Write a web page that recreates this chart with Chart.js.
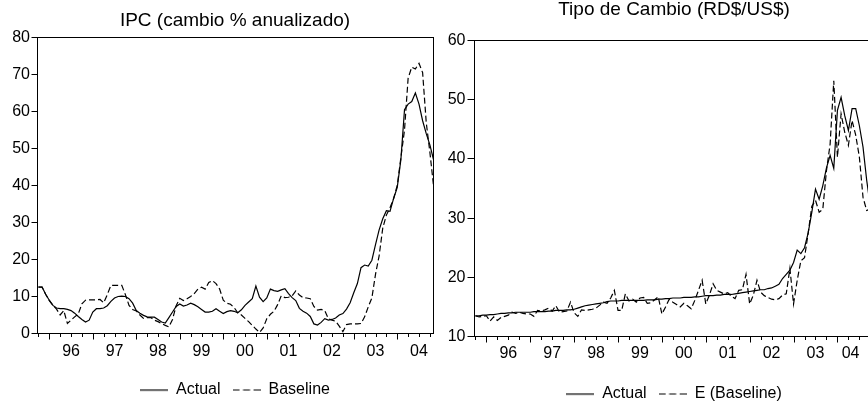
<!DOCTYPE html>
<html><head><meta charset="utf-8">
<script src="https://cdn.jsdelivr.net/npm/chart.js@4/dist/chart.umd.min.js"></script>
<style>
html,body{margin:0;padding:0;background:#fff;}
#wrap{position:relative;width:868px;height:404px;overflow:hidden;background:#fff;}
canvas{position:absolute;top:0;}
#c1{left:0;} #c2{left:431px;}
</style></head><body>
<div id="wrap"><canvas id="c1" width="470" height="404"></canvas><canvas id="c2" width="486" height="404"></canvas></div>
<script>
// Monthly observations, 1995M10 .. 2004M11
const firstObs = '1995M10';
const yearLabels = ['96','97','98','99','00','01','02','03','04'];
const ipcSeries = ['Actual', 'Baseline'];
const fxSeries = ['Actual', 'E (Baseline)'];

const ipcActual = [12.5,12.6,10.6,9.0,7.6,6.9,6.7,6.7,6.5,6.2,5.5,4.6,3.8,3.1,3.6,5.8,6.7,6.7,6.9,7.5,
  8.7,9.6,10.0,10.1,10.0,9.4,8.2,6.2,5.5,4.9,4.5,4.4,4.4,3.8,3.1,2.8,4.3,5.8,7.3,8.0,
  7.4,7.7,8.2,7.8,7.2,6.5,5.8,5.8,6.0,6.7,6.0,5.4,5.9,6.2,6.0,5.6,6.4,7.6,8.5,9.4,
  12.8,9.8,8.6,9.6,12.0,11.6,11.4,11.8,12.1,10.8,9.7,8.9,6.8,6.0,5.5,4.6,2.6,2.3,3.0,4.0,
  3.6,3.8,4.2,5.0,5.4,6.6,8.3,11.0,13.5,17.8,18.5,18.2,19.8,24.0,28.0,31.0,33.2,33.0,36.5,39.5,
  47.0,60.5,62.0,62.7,65.0,62.0,57.5,54.0,51.0,47.0];
const ipcBaseline = [12.6,12.5,10.6,8.9,7.6,6.6,5.0,6.2,2.7,3.6,4.5,5.3,8.0,9.0,9.1,9.1,9.1,9.2,8.3,10.5,
  13.0,13.0,13.0,13.0,10.5,7.6,6.5,6.1,5.0,4.1,4.3,4.3,3.6,3.2,2.7,2.2,1.8,3.8,7.5,9.5,
  8.9,9.4,10.0,10.8,12.0,12.5,12.0,13.8,14.3,13.5,12.0,9.0,8.2,7.9,7.0,5.6,5.0,4.1,3.2,2.2,
  1.2,0.3,1.5,4.0,5.2,6.0,7.8,10.2,9.7,9.8,10.2,11.5,10.4,9.7,9.6,9.4,7.3,6.3,6.5,6.2,
  4.0,3.6,3.3,2.0,0.5,2.4,2.6,2.6,2.6,2.7,4.5,7.2,9.6,16.0,21.0,28.5,32.0,34.0,36.5,40.0,
  47.5,55.0,69.0,72.0,71.5,73.0,70.5,57.0,49.0,40.0];

const fxActual = [13.5,13.5,13.6,13.6,13.7,13.7,13.8,13.9,13.9,14.0,14.0,14.1,14.1,14.1,14.1,14.1,14.2,14.2,14.2,14.2,
  14.3,14.3,14.4,14.4,14.4,14.5,14.5,14.6,14.8,15.0,15.2,15.3,15.4,15.5,15.6,15.7,15.9,16.0,16.0,16.0,
  16.1,16.1,16.1,16.1,16.1,16.1,16.1,16.2,16.2,16.2,16.3,16.3,16.4,16.4,16.5,16.5,16.5,16.6,16.6,16.6,
  16.7,16.7,16.8,16.9,16.9,16.9,17.0,17.0,17.1,17.1,17.1,17.2,17.3,17.4,17.5,17.6,17.7,17.8,17.9,17.9,
  18.1,18.2,18.5,18.8,19.8,20.5,21.2,22.5,24.6,24.0,25.0,27.5,31.0,34.9,33.2,35.5,38.5,40.6,38.4,48.2,
  50.4,47.3,44.8,48.5,48.5,45.6,42.0,36.4,32.0,30.0];
const fxBaseline = [13.5,13.3,13.4,13.5,12.6,13.3,12.7,13.2,13.4,13.6,14.1,13.9,14.1,13.9,13.8,13.8,13.4,14.4,14.3,14.5,
  14.8,14.3,15.2,14.1,14.2,14.3,15.8,14.0,13.4,14.5,14.4,14.5,14.6,14.8,15.3,15.8,15.6,16.5,17.8,14.4,
  14.4,17.2,16.0,16.3,15.8,16.5,16.6,15.6,15.7,16.2,16.7,13.8,15.0,16.3,15.8,15.4,15.0,15.6,15.2,14.7,
  16.1,17.8,19.5,15.5,17.0,18.9,17.8,17.5,17.2,17.4,16.8,16.4,17.8,17.9,20.5,15.5,17.0,19.5,17.5,16.9,
  16.6,16.3,16.2,16.4,17.0,17.2,21.5,15.5,19.5,22.8,23.3,27.5,32.0,33.0,31.0,31.5,38.0,42.5,53.2,40.3,
  47.6,44.5,42.3,46.5,44.0,40.3,33.5,31.3,31.5,31.0];

Chart.defaults.font.family = "'Liberation Sans', Arial, sans-serif";
Chart.defaults.color = '#000';

// legend line symbols (solid / dashed)
function lineSymbol(dash) {
  const c = document.createElement('canvas');
  c.width = 28; c.height = 3;
  const g = c.getContext('2d');
  g.strokeStyle = '#000';
  g.lineWidth = 1.2;
  g.setLineDash(dash);
  g.beginPath(); g.moveTo(0, 1.5); g.lineTo(28, 1.5); g.stroke();
  return c;
}
const solidSym = lineSymbol([]);
const dashSym = lineSymbol([7, 3.5]);

const framePlugin = {
  id: 'frame',
  afterDatasetsDraw(chart) {
    const {ctx, chartArea: a, scales: {x}} = chart;
    ctx.save();
    ctx.strokeStyle = '#000';
    ctx.lineWidth = 1;
    ctx.setLineDash([]);
    ctx.strokeRect(a.left, a.top, a.right - a.left, a.bottom - a.top);
    ctx.beginPath();
    for (let q = 0; q <= x.max; q += 3) {
      const px = Math.round(x.getPixelForValue(q)) + 0.5;
      const major = (q - 3) % 12 === 0;
      ctx.moveTo(px, a.bottom);
      ctx.lineTo(px, a.bottom + (major ? 6 : 3.5));
    }
    ctx.stroke();
    ctx.restore();
  }
};

function series(vals) { return vals.map((v, i) => ({x: i, y: v})); }

function makeChart(id, cfg) {
  return new Chart(document.getElementById(id), {
    type: 'line',
    data: { datasets: [
      { label: cfg.names[0], data: series(cfg.actual), borderColor: '#000', backgroundColor: '#000', borderWidth: 1.2, pointRadius: 0, pointStyle: solidSym, fill: false, tension: 0 },
      { label: cfg.names[1], data: series(cfg.base), borderColor: '#000', backgroundColor: '#000', borderWidth: 1.2, borderDash: [6, 3], pointRadius: 0, pointStyle: dashSym, fill: false, tension: 0 }
    ]},
    options: {
      responsive: false, animation: false, events: [],
      layout: { padding: 0 },
      plugins: {
        title: { display: true, text: cfg.title, color: '#000', font: { size: 19, weight: 'normal', lineHeight: 1 }, padding: { top: cfg.titleTop, bottom: cfg.titleBottom } },
        legend: { position: 'bottom', maxHeight: cfg.legendH, labels: { usePointStyle: true, pointStyleWidth: 28, padding: 12, color: '#000', font: { size: 16 } } },
        tooltip: { enabled: false }
      },
      scales: {
        x: { type: 'linear', min: -0.25, max: 109,
             grid: { display: false, drawTicks: false }, border: { display: false },
             afterBuildTicks: (s) => { s.ticks = yearLabels.map((_, k) => ({ value: Math.min(9 + 12 * k, cfg.labelMax) })); },
             ticks: { autoSkip: false, maxRotation: 0, minRotation: 0, padding: cfg.xPad, color: '#000', font: { size: 16 }, callback: (v, i) => yearLabels[i] },
             afterFit: (s) => { s.height = cfg.xH; } },
        y: { min: cfg.yMin, max: cfg.yMax,
             grid: { drawOnChartArea: false, drawTicks: true, tickLength: cfg.tickLen, color: '#000' }, border: { display: false },
             ticks: { stepSize: 10, padding: cfg.yPad, color: '#000', font: { size: 16 } },
             afterFit: (s) => { s.width = cfg.yW; } },
        yR: { position: 'right', min: cfg.yMin, max: cfg.yMax,
             grid: { display: false, drawTicks: false }, border: { display: false },
             ticks: { display: false },
             afterFit: (s) => { s.width = cfg.rightW; } }
      }
    },
    plugins: [framePlugin]
  });
}

makeChart('c1', { names: ipcSeries, actual: ipcActual, base: ipcBaseline, title: 'IPC (cambio % anualizado)',
  rightW: 36.5, titleTop: 11.5, titleBottom: 7, legendH: 34, xH: 36.5, xPad: 8, labelMax: 999,
  yMin: 0, yMax: 80, tickLen: 6, yPad: 1.5, yW: 37.5 });
makeChart('c2', { names: fxSeries, actual: fxActual, base: fxBaseline, title: 'Tipo de Cambio (RD$/US$)',
  rightW: 43, titleTop: 0.5, titleBottom: 21, legendH: 30, xH: 37.5, xPad: 7, labelMax: 102.6,
  yMin: 10, yMax: 60, tickLen: 7, yPad: 2, yW: 43.5 });
</script>
</body></html>
